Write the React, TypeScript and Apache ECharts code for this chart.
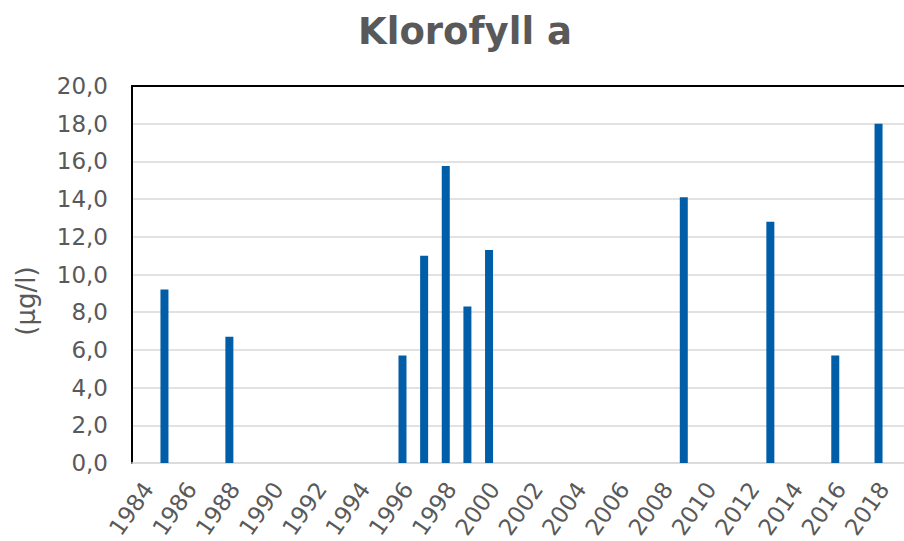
import React, { useEffect, useRef } from "react";
import * as echarts from "echarts";

const years: string[] = [];
for (let y = 1984; y <= 2019; y++) years.push(String(y));

const measuredYears = ["1985", "1988", "1996", "1997", "1998", "1999", "2000", "2009", "2013", "2016", "2018"];
const measuredValues = [9.2, 6.7, 5.7, 11.0, 15.75, 8.3, 11.3, 14.1, 12.8, 5.7, 18.0];

const yTicks = { min: 0, max: 20, interval: 2 };

const TEXT = "#595959";
const FONT = "DejaVu Sans";

export default function App() {
  const ref = useRef<HTMLDivElement>(null);
  useEffect(() => {
    if (!ref.current) return;
    const chart = echarts.init(ref.current, null, { renderer: "svg" });
    const data = years.map((y) => {
      const i = measuredYears.indexOf(y);
      return i >= 0 ? measuredValues[i] : null;
    });
    chart.setOption({
      animation: false,
      backgroundColor: "#ffffff",
      title: {
        text: "Klorofyll a",
        left: 460,
        top: 8,
        textAlign: "center",
        textStyle: { fontFamily: FONT, fontSize: 37, fontWeight: "bold", color: TEXT },
      },
      grid: {
        left: 132,
        top: 86,
        height: 377,
        width: 779,
        containLabel: false,
        outerBoundsMode: "none",
      },
      graphic: [
        {
          type: "text",
          x: 26,
          y: 301,
          rotation: Math.PI / 2,
          style: {
            text: "(µg/l)",
            fontFamily: FONT,
            fontSize: 26,
            fill: TEXT,
            align: "center",
            verticalAlign: "middle",
          },
        },
      ],
      xAxis: [
        {
          type: "category",
          data: years,
          boundaryGap: true,
          axisLine: { show: true, lineStyle: { color: "#D9D9D9", width: 1.5 } },
          axisTick: { show: false },
          axisLabel: {
            interval: 1,
            rotate: 55,
            margin: 18,
            verticalAlign: "top",
            padding: [-5, 0, 0, 0],
            fontFamily: FONT,
            fontSize: 23,
            color: TEXT,
          },
          splitLine: { show: false },
        },
        {
          type: "category",
          data: years,
          position: "top",
          axisLine: { show: true, lineStyle: { color: "#000000", width: 2 } },
          axisTick: { show: false },
          axisLabel: { show: false },
        },
      ],
      yAxis: {
        type: "value",
        min: yTicks.min,
        max: yTicks.max,
        interval: yTicks.interval,
        axisLine: { show: true, lineStyle: { color: "#000000", width: 2 } },
        axisTick: { show: false },
        axisLabel: {
          margin: 24,
          fontFamily: FONT,
          fontSize: 23,
          color: TEXT,
          formatter: (v: number) => v.toFixed(1).replace(".", ","),
        },
        splitLine: { show: true, lineStyle: { color: "#D9D9D9", width: 1.5 } },
      },
      series: [
        {
          type: "bar",
          data,
          barWidth: 8,
          itemStyle: { color: "#005EA9" },
        },
      ],
    });
    return () => chart.dispose();
  }, []);
  return (
    <div
      ref={ref}
      style={{ position: "absolute", left: 0, top: 0, width: 904, height: 541 }}
    />
  );
}
